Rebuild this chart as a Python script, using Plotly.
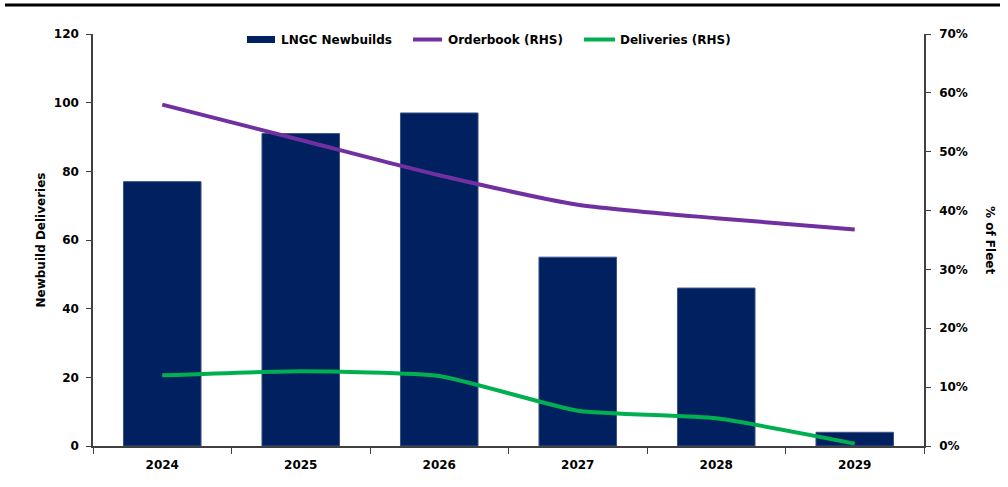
import plotly.graph_objects as go

# LNG carrier newbuild deliveries vs orderbook / deliveries as % of fleet
years = ["2024", "2025", "2026", "2027", "2028", "2029"]
newbuilds = [77, 91, 97, 55, 46, 4]
orderbook_pct = [0.58, 0.52, 0.46, 0.41, 0.387, 0.368]
deliveries_pct = [0.12, 0.127, 0.119, 0.06, 0.047, 0.004]

left_ticks = [0, 20, 40, 60, 80, 100, 120]
right_ticks = [0, 0.1, 0.2, 0.3, 0.4, 0.5, 0.6, 0.7]

NAVY = "#002060"
PURPLE = "#7030A0"
GREEN = "#00B050"
AXIS = "#404040"
BOLD = dict(family="DejaVu Sans", size=12, color="#000000", weight="bold")

fig = go.Figure()

fig.add_trace(go.Bar(
    x=years, y=newbuilds, name="LNGC Newbuilds",
    marker=dict(color=NAVY, line=dict(color="#3B5487", width=1)),
    width=0.56, yaxis="y",
))
fig.add_trace(go.Scatter(
    x=years, y=orderbook_pct, name="Orderbook (RHS)", mode="lines",
    line=dict(color=PURPLE, width=4, shape="spline", smoothing=0.6),
    yaxis="y2",
))
fig.add_trace(go.Scatter(
    x=years, y=deliveries_pct, name="Deliveries (RHS)", mode="lines",
    line=dict(color=GREEN, width=4, shape="spline", smoothing=0.5),
    yaxis="y2",
))

fig.update_layout(
    width=1008, height=487,
    margin=dict(l=93, r=84, t=34, b=41),
    paper_bgcolor="white", plot_bgcolor="white",
    font=BOLD,
    showlegend=False,
    xaxis=dict(
        type="category", showgrid=False, showline=True, linecolor=AXIS, linewidth=1.5,
        ticks="outside", tickson="boundaries", ticklen=6, tickcolor=AXIS,
        tickfont=BOLD, ticklabelstandoff=7,
    ),
    yaxis=dict(
        range=[0, 120], tickvals=left_ticks, showgrid=False, zeroline=False,
        showline=True, linecolor=AXIS, linewidth=1.5,
        ticks="outside", ticklen=5, tickcolor=AXIS,
        tickfont=BOLD, ticklabelstandoff=5,
        title=dict(text="Newbuild Deliveries", standoff=6, font=BOLD),
    ),
    yaxis2=dict(
        range=[0, 0.7], tickvals=right_ticks, tickformat=".0%",
        overlaying="y", side="right", showgrid=False, zeroline=False,
        showline=True, linecolor=AXIS, linewidth=1.5,
        ticks="outside", ticklen=5, tickcolor=AXIS,
        tickfont=BOLD, ticklabelstandoff=6,
    ),
)

# right-hand axis title, reading top to bottom
fig.add_annotation(
    text="% of Fleet", xref="paper", yref="paper",
    x=1.0 + (990 - 924) / 831, y=0.5, textangle=90, showarrow=False,
    xanchor="center", yanchor="middle", font=BOLD,
)

# rule across the top of the figure
fig.add_shape(type="line", xref="paper", yref="paper",
              x0=(5 - 93) / 831, x1=(1000 - 93) / 831,
              y0=(446 - 5) / 412, y1=(446 - 5) / 412,
              line=dict(color="#000", width=3))

# legend drawn as swatches + labels
def px_x(p):
    return (p - 93) / 831

def px_y(p):
    return (446 - p) / 412

legend_y = 39.5
fig.add_shape(type="rect", xref="paper", yref="paper",
              x0=px_x(247), x1=px_x(275), y0=px_y(36), y1=px_y(43),
              fillcolor=NAVY, line=dict(width=0))
fig.add_shape(type="line", xref="paper", yref="paper",
              x0=px_x(413), x1=px_x(442), y0=px_y(legend_y), y1=px_y(legend_y),
              line=dict(color=PURPLE, width=4))
fig.add_shape(type="line", xref="paper", yref="paper",
              x0=px_x(584), x1=px_x(615), y0=px_y(legend_y), y1=px_y(legend_y),
              line=dict(color=GREEN, width=4))
for label, start in [("LNGC Newbuilds", 279), ("Orderbook (RHS)", 446),
                     ("Deliveries (RHS)", 618)]:
    fig.add_annotation(text=label, xref="paper", yref="paper",
                       x=px_x(start), y=px_y(legend_y), xanchor="left",
                       yanchor="middle", showarrow=False, font=BOLD)

fig.write_html("out.html")
